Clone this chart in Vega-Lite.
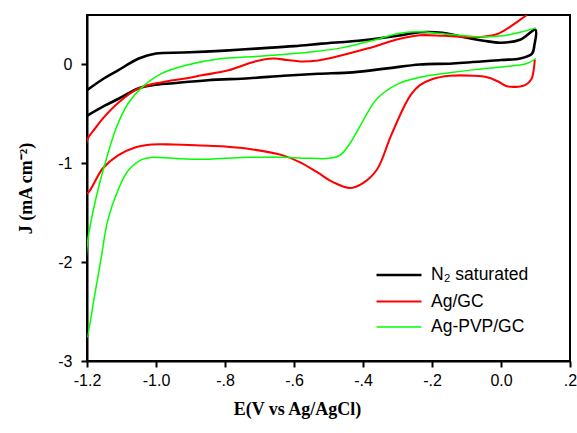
{
  "$schema": "https://vega.github.io/schema/vega-lite/v6.json",
  "autosize": "none",
  "width": 483,
  "height": 346,
  "padding": {"left": 87, "top": 15, "right": 7, "bottom": 72},
  "background": "white",
  "config": {
    "view": {"stroke": "#000", "strokeWidth": 2},
    "axis": {
      "grid": false,
      "domainColor": "#000",
      "domainWidth": 2,
      "tickColor": "#000",
      "tickWidth": 2,
      "tickSize": 6,
      "labelFont": "Liberation Sans",
      "labelFontSize": 16,
      "labelColor": "#000",
      "titleFont": "Liberation Serif",
      "titleFontSize": 18,
      "titleFontWeight": "bold",
      "titleColor": "#000"
    },
    "legend": {
      "labelFont": "Liberation Sans",
      "labelFontSize": 17.5,
      "labelColor": "#000"
    }
  },
  "data": {
    "values": [
      {"s":"N₂ saturated","i":1,"E":-1.2,"J":-0.26},
      {"s":"N₂ saturated","i":2,"E":-1.15,"J":-0.14},
      {"s":"N₂ saturated","i":3,"E":-1.11,"J":-0.06},
      {"s":"N₂ saturated","i":4,"E":-1.05,"J":0.06},
      {"s":"N₂ saturated","i":5,"E":-1.0,"J":0.11},
      {"s":"N₂ saturated","i":6,"E":-0.92,"J":0.12},
      {"s":"N₂ saturated","i":7,"E":-0.8,"J":0.14},
      {"s":"N₂ saturated","i":8,"E":-0.71,"J":0.16},
      {"s":"N₂ saturated","i":9,"E":-0.6,"J":0.185},
      {"s":"N₂ saturated","i":10,"E":-0.52,"J":0.21},
      {"s":"N₂ saturated","i":11,"E":-0.4,"J":0.245},
      {"s":"N₂ saturated","i":12,"E":-0.3,"J":0.29},
      {"s":"N₂ saturated","i":13,"E":-0.235,"J":0.325},
      {"s":"N₂ saturated","i":14,"E":-0.17,"J":0.32},
      {"s":"N₂ saturated","i":15,"E":-0.12,"J":0.285},
      {"s":"N₂ saturated","i":16,"E":-0.05,"J":0.24},
      {"s":"N₂ saturated","i":17,"E":0.0,"J":0.22},
      {"s":"N₂ saturated","i":18,"E":0.055,"J":0.25},
      {"s":"N₂ saturated","i":19,"E":0.1,"J":0.35},
      {"s":"N₂ saturated","i":20,"E":0.097,"J":0.2},
      {"s":"N₂ saturated","i":21,"E":0.09,"J":0.11},
      {"s":"N₂ saturated","i":22,"E":0.055,"J":0.06},
      {"s":"N₂ saturated","i":23,"E":0.0,"J":0.045},
      {"s":"N₂ saturated","i":24,"E":-0.14,"J":0.01},
      {"s":"N₂ saturated","i":25,"E":-0.235,"J":0.0},
      {"s":"N₂ saturated","i":26,"E":-0.33,"J":-0.04},
      {"s":"N₂ saturated","i":27,"E":-0.43,"J":-0.08},
      {"s":"N₂ saturated","i":28,"E":-0.53,"J":-0.095},
      {"s":"N₂ saturated","i":29,"E":-0.63,"J":-0.115},
      {"s":"N₂ saturated","i":30,"E":-0.73,"J":-0.14},
      {"s":"N₂ saturated","i":31,"E":-0.85,"J":-0.16},
      {"s":"N₂ saturated","i":32,"E":-0.95,"J":-0.19},
      {"s":"N₂ saturated","i":33,"E":-1.01,"J":-0.21},
      {"s":"N₂ saturated","i":34,"E":-1.05,"J":-0.24},
      {"s":"N₂ saturated","i":35,"E":-1.11,"J":-0.35},
      {"s":"N₂ saturated","i":36,"E":-1.15,"J":-0.42},
      {"s":"N₂ saturated","i":37,"E":-1.2,"J":-0.52},

      {"s":"Ag/GC","i":1,"E":0.098,"J":0.05},
      {"s":"Ag/GC","i":2,"E":0.095,"J":-0.05},
      {"s":"Ag/GC","i":3,"E":0.088,"J":-0.15},
      {"s":"Ag/GC","i":4,"E":0.07,"J":-0.21},
      {"s":"Ag/GC","i":5,"E":0.05,"J":-0.225},
      {"s":"Ag/GC","i":6,"E":0.017,"J":-0.22},
      {"s":"Ag/GC","i":7,"E":-0.01,"J":-0.17},
      {"s":"Ag/GC","i":8,"E":-0.04,"J":-0.13},
      {"s":"Ag/GC","i":9,"E":-0.08,"J":-0.115},
      {"s":"Ag/GC","i":10,"E":-0.148,"J":-0.115},
      {"s":"Ag/GC","i":11,"E":-0.2,"J":-0.15},
      {"s":"Ag/GC","i":12,"E":-0.235,"J":-0.21},
      {"s":"Ag/GC","i":13,"E":-0.26,"J":-0.3},
      {"s":"Ag/GC","i":14,"E":-0.28,"J":-0.42},
      {"s":"Ag/GC","i":15,"E":-0.32,"J":-0.73},
      {"s":"Ag/GC","i":16,"E":-0.359,"J":-1.06},
      {"s":"Ag/GC","i":17,"E":-0.4,"J":-1.2},
      {"s":"Ag/GC","i":18,"E":-0.438,"J":-1.25},
      {"s":"Ag/GC","i":19,"E":-0.487,"J":-1.19},
      {"s":"Ag/GC","i":20,"E":-0.533,"J":-1.09},
      {"s":"Ag/GC","i":21,"E":-0.582,"J":-0.99},
      {"s":"Ag/GC","i":22,"E":-0.632,"J":-0.92},
      {"s":"Ag/GC","i":23,"E":-0.72,"J":-0.86},
      {"s":"Ag/GC","i":24,"E":-0.8,"J":-0.83},
      {"s":"Ag/GC","i":25,"E":-0.867,"J":-0.82},
      {"s":"Ag/GC","i":26,"E":-0.95,"J":-0.81},
      {"s":"Ag/GC","i":27,"E":-1.012,"J":-0.81},
      {"s":"Ag/GC","i":28,"E":-1.061,"J":-0.84},
      {"s":"Ag/GC","i":29,"E":-1.11,"J":-0.92},
      {"s":"Ag/GC","i":30,"E":-1.154,"J":-1.05},
      {"s":"Ag/GC","i":31,"E":-1.2,"J":-1.3},
      {"s":"Ag/GC","i":32,"E":-1.2,"J":-0.77},
      {"s":"Ag/GC","i":33,"E":-1.177,"J":-0.65},
      {"s":"Ag/GC","i":34,"E":-1.155,"J":-0.55},
      {"s":"Ag/GC","i":35,"E":-1.11,"J":-0.39},
      {"s":"Ag/GC","i":36,"E":-1.052,"J":-0.245},
      {"s":"Ag/GC","i":37,"E":-0.983,"J":-0.18},
      {"s":"Ag/GC","i":38,"E":-0.92,"J":-0.145},
      {"s":"Ag/GC","i":39,"E":-0.867,"J":-0.11},
      {"s":"Ag/GC","i":40,"E":-0.79,"J":-0.06},
      {"s":"Ag/GC","i":41,"E":-0.713,"J":0.03},
      {"s":"Ag/GC","i":42,"E":-0.661,"J":0.06},
      {"s":"Ag/GC","i":43,"E":-0.62,"J":0.045},
      {"s":"Ag/GC","i":44,"E":-0.582,"J":0.03},
      {"s":"Ag/GC","i":45,"E":-0.53,"J":0.04},
      {"s":"Ag/GC","i":46,"E":-0.487,"J":0.07},
      {"s":"Ag/GC","i":47,"E":-0.388,"J":0.16},
      {"s":"Ag/GC","i":48,"E":-0.293,"J":0.26},
      {"s":"Ag/GC","i":49,"E":-0.235,"J":0.295},
      {"s":"Ag/GC","i":50,"E":-0.168,"J":0.29},
      {"s":"Ag/GC","i":51,"E":-0.07,"J":0.275},
      {"s":"Ag/GC","i":52,"E":-0.012,"J":0.305},
      {"s":"Ag/GC","i":53,"E":0.026,"J":0.38},
      {"s":"Ag/GC","i":54,"E":0.055,"J":0.45},
      {"s":"Ag/GC","i":55,"E":0.075,"J":0.5},

      {"s":"Ag-PVP/GC","i":1,"E":0.101,"J":0.06},
      {"s":"Ag-PVP/GC","i":2,"E":0.075,"J":0.01},
      {"s":"Ag-PVP/GC","i":3,"E":0.0,"J":-0.025},
      {"s":"Ag-PVP/GC","i":4,"E":-0.07,"J":-0.05},
      {"s":"Ag-PVP/GC","i":5,"E":-0.15,"J":-0.085},
      {"s":"Ag-PVP/GC","i":6,"E":-0.235,"J":-0.13},
      {"s":"Ag-PVP/GC","i":7,"E":-0.3,"J":-0.2},
      {"s":"Ag-PVP/GC","i":8,"E":-0.36,"J":-0.35},
      {"s":"Ag-PVP/GC","i":9,"E":-0.4,"J":-0.57},
      {"s":"Ag-PVP/GC","i":10,"E":-0.438,"J":-0.8},
      {"s":"Ag-PVP/GC","i":11,"E":-0.467,"J":-0.92},
      {"s":"Ag-PVP/GC","i":12,"E":-0.5,"J":-0.95},
      {"s":"Ag-PVP/GC","i":13,"E":-0.55,"J":-0.95},
      {"s":"Ag-PVP/GC","i":14,"E":-0.632,"J":-0.94},
      {"s":"Ag-PVP/GC","i":15,"E":-0.727,"J":-0.94},
      {"s":"Ag-PVP/GC","i":16,"E":-0.8,"J":-0.95},
      {"s":"Ag-PVP/GC","i":17,"E":-0.867,"J":-0.96},
      {"s":"Ag-PVP/GC","i":18,"E":-0.95,"J":-0.95},
      {"s":"Ag-PVP/GC","i":19,"E":-1.012,"J":-0.94},
      {"s":"Ag-PVP/GC","i":20,"E":-1.04,"J":-0.96},
      {"s":"Ag-PVP/GC","i":21,"E":-1.08,"J":-1.07},
      {"s":"Ag-PVP/GC","i":22,"E":-1.11,"J":-1.27},
      {"s":"Ag-PVP/GC","i":23,"E":-1.14,"J":-1.58},
      {"s":"Ag-PVP/GC","i":24,"E":-1.16,"J":-1.98},
      {"s":"Ag-PVP/GC","i":25,"E":-1.18,"J":-2.38},
      {"s":"Ag-PVP/GC","i":26,"E":-1.2,"J":-2.76},
      {"s":"Ag-PVP/GC","i":27,"E":-1.2,"J":-1.85},
      {"s":"Ag-PVP/GC","i":28,"E":-1.177,"J":-1.4},
      {"s":"Ag-PVP/GC","i":29,"E":-1.15,"J":-1.03},
      {"s":"Ag-PVP/GC","i":30,"E":-1.114,"J":-0.63},
      {"s":"Ag-PVP/GC","i":31,"E":-1.08,"J":-0.39},
      {"s":"Ag-PVP/GC","i":32,"E":-1.04,"J":-0.23},
      {"s":"Ag-PVP/GC","i":33,"E":-0.983,"J":-0.09},
      {"s":"Ag-PVP/GC","i":34,"E":-0.916,"J":-0.01},
      {"s":"Ag-PVP/GC","i":35,"E":-0.82,"J":0.055},
      {"s":"Ag-PVP/GC","i":36,"E":-0.713,"J":0.08},
      {"s":"Ag-PVP/GC","i":37,"E":-0.582,"J":0.115},
      {"s":"Ag-PVP/GC","i":38,"E":-0.458,"J":0.17},
      {"s":"Ag-PVP/GC","i":39,"E":-0.359,"J":0.255},
      {"s":"Ag-PVP/GC","i":40,"E":-0.293,"J":0.315},
      {"s":"Ag-PVP/GC","i":41,"E":-0.235,"J":0.33},
      {"s":"Ag-PVP/GC","i":42,"E":-0.168,"J":0.31},
      {"s":"Ag-PVP/GC","i":43,"E":-0.07,"J":0.28},
      {"s":"Ag-PVP/GC","i":44,"E":0.006,"J":0.29},
      {"s":"Ag-PVP/GC","i":45,"E":0.055,"J":0.325},
      {"s":"Ag-PVP/GC","i":46,"E":0.101,"J":0.37}
    ]
  },
  "mark": {"type": "line", "interpolate": "catmull-rom", "clip": true},
  "encoding": {
    "x": {
      "field": "E", "type": "quantitative",
      "scale": {"domain": [-1.2, 0.2], "nice": false, "zero": false},
      "axis": {
        "values": [-1.2, -1.0, -0.8, -0.6, -0.4, -0.2, 0.0, 0.2],
        "labelExpr": "datum.value < -1.1 ? '-1.2' : datum.value < -0.9 ? '-1.0' : datum.value < -0.7 ? '-.8' : datum.value < -0.5 ? '-.6' : datum.value < -0.3 ? '-.4' : datum.value < -0.1 ? '-.2' : datum.value < 0.1 ? '0.0' : '.2'",
        "labelPadding": 5,
        "labelFlush": false,
        "title": "E(V vs Ag/AgCl)",
        "titlePadding": 12,
        "titleX": 210
      }
    },
    "y": {
      "field": "J", "type": "quantitative",
      "scale": {"domain": [-3, 0.5], "nice": false, "zero": false},
      "axis": {
        "values": [-3, -2, -1, 0],
        "labelExpr": "datum.value == 0 ? '0' : '-' + abs(datum.value)",
        "labelPadding": 9,
        "labelFlush": false,
        "title": "J (mA cm⁻²)",
        "titlePadding": 22
      }
    },
    "order": {"field": "i", "type": "quantitative"},
    "color": {
      "field": "s", "type": "nominal",
      "scale": {"domain": ["N₂ saturated", "Ag/GC", "Ag-PVP/GC"], "range": ["#000000", "#ff0000", "#00ff00"]},
      "legend": {
        "title": null,
        "orient": "none",
        "legendX": 299,
        "legendY": 247,
        "symbolType": "M-2,0H2",
        "symbolSize": 506,
        "symbolStrokeWidth": 2,
        "rowPadding": 5,
        "labelOffset": 19,
        "padding": 0
      }
    },
    "strokeWidth": {
      "field": "s", "type": "nominal",
      "scale": {"domain": ["N₂ saturated", "Ag/GC", "Ag-PVP/GC"], "range": [2.6, 1.5, 1.2]},
      "legend": null
    }
  }
}
